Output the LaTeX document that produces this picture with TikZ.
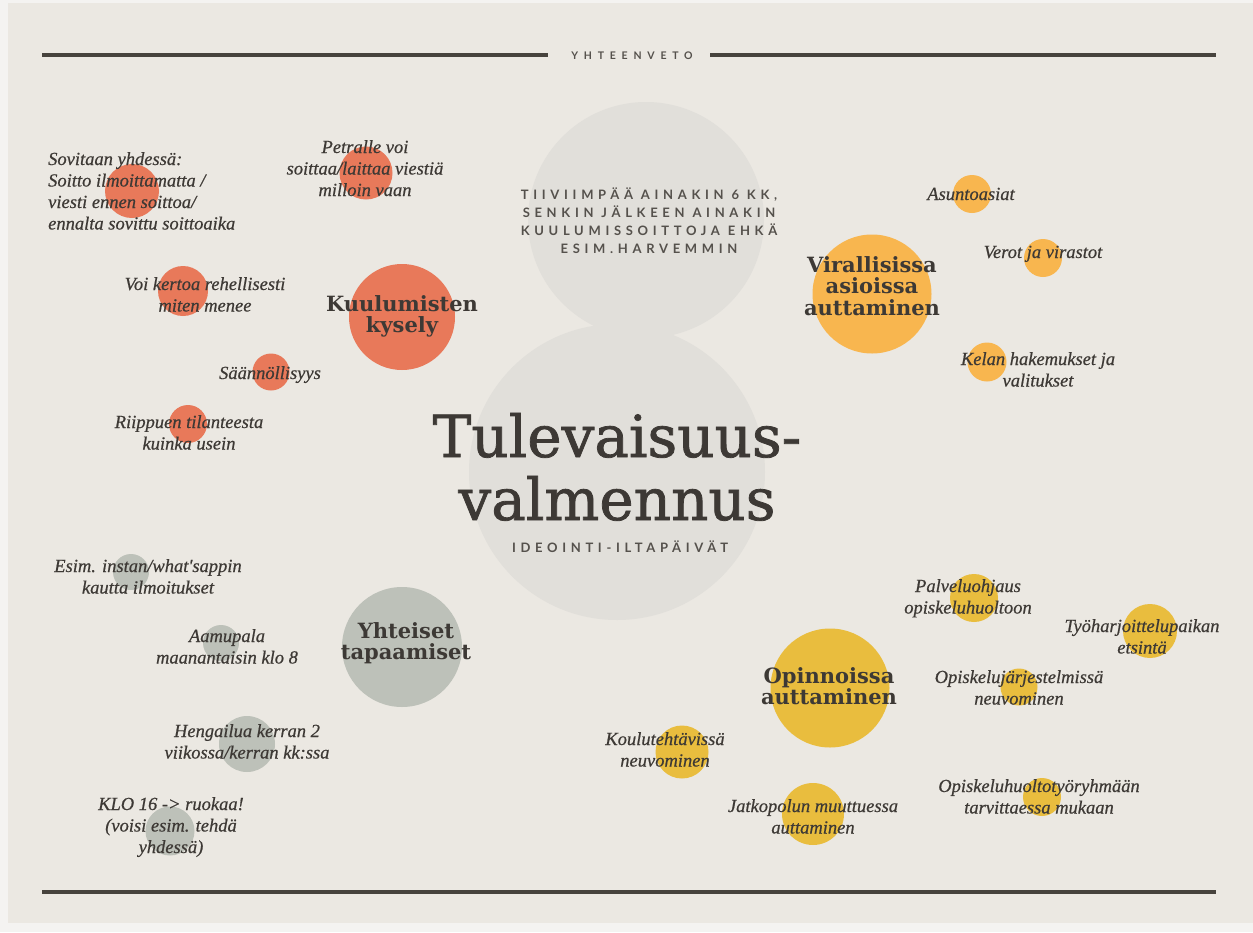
\documentclass[tikz,border=0pt]{standalone}
\usepackage{fontspec}
\setmainfont{Liberation Serif}
\newfontfamily\lblfont[FakeBold=0.6]{Liberation Serif}
\newfontfamily\headfont{DejaVu Serif}
\newfontfamily\titlefont[FakeBold=1.3]{DejaVu Serif}
\newfontfamily\spacedfont[LetterSpace=36]{Lato}
\newfontfamily\rulefont[LetterSpace=55]{Lato}
\definecolor{outer}{HTML}{F4F3F1}
\definecolor{bg}{HTML}{EBE8E2}
\definecolor{bigc}{HTML}{E1DFDA}
\definecolor{ink}{HTML}{3D3935}
\definecolor{rulec}{HTML}{47433D}
\definecolor{orng}{HTML}{E8795A}
\definecolor{grn}{HTML}{BDC1B9}
\definecolor{lor}{HTML}{F8B64F}
\definecolor{yel}{HTML}{E9BD3E}
\definecolor{sp}{HTML}{55514C}
\tikzset{
  dot/.style={circle, inner sep=0pt, draw=none, minimum size=#1},
  lbl/.style={font=\lblfont\itshape\fontsize{18.5}{21.5}\selectfont, text=ink, align=center, anchor=base, inner sep=0pt},
  head/.style={font=\headfont\bfseries\fontsize{21}{21.5}\selectfont, text=ink, align=center, anchor=base, inner sep=0pt},
  spaced/.style={font=\spacedfont\bfseries\fontsize{13}{18}\selectfont, text=sp, align=center, anchor=base, inner sep=0pt},
  rulestyle/.style={line width=4pt, draw=rulec}
}
\begin{document}
\begin{tikzpicture}[x=1pt,y=-1pt]
\useasboundingbox (0,0) rectangle (1253,932);
\fill[outer] (0,0) rectangle (1253,932);
\fill[bg] (8,3) rectangle (1253,923);
% rules
\coordinate (r1a) at (42,55); \coordinate (r1b) at (548,55);
\coordinate (r2a) at (710,55); \coordinate (r2b) at (1216,55);
\coordinate (r3a) at (42,892); \coordinate (r3b) at (1216,892);
\draw[rulestyle] (r1a) -- (r1b);
\draw[rulestyle] (r2a) -- (r2b);
\draw[rulestyle] (r3a) -- (r3b);
\node[font=\rulefont\bfseries\fontsize{10.5}{12}\selectfont, text=sp, anchor=base, inner sep=0pt] (yht) at (632,59.5) {YHTEENVETO};
% big circles
\node[dot=236pt, fill=bigc] (bigtop) at (646,220) {};
\node[dot=296pt, fill=bigc] (bigmid) at (617,472) {};
% orange
\node[dot=106pt, fill=orng] (ck) at (402,317) {};
\node[dot=54pt, fill=orng] (co1) at (132,191) {};
\node[dot=53pt, fill=orng] (co2) at (366,173) {};
\node[dot=50pt, fill=orng] (co3) at (183,291) {};
\node[dot=37pt, fill=orng] (co4) at (271,372) {};
\node[dot=38pt, fill=orng] (co5) at (188,424) {};
% light orange
\node[dot=119pt, fill=lor] (cv) at (872,294) {};
\node[dot=38pt, fill=lor] (cv1) at (972,194) {};
\node[dot=38pt, fill=lor] (cv2) at (1043,258) {};
\node[dot=39pt, fill=lor] (cv3) at (987,362) {};
% gray-green
\node[dot=120pt, fill=grn] (cy) at (402,647) {};
\node[dot=36pt, fill=grn] (cy1) at (131,572) {};
\node[dot=36pt, fill=grn] (cy2) at (221,643) {};
\node[dot=56pt, fill=grn] (cy3) at (247,744) {};
\node[dot=49pt, fill=grn] (cy4) at (170,831) {};
% yellow
\node[dot=119pt, fill=yel] (cp) at (830,688) {};
\node[dot=48pt, fill=yel] (cp1) at (974,598) {};
\node[dot=54pt, fill=yel] (cp2) at (1150,631) {};
\node[dot=37pt, fill=yel] (cp3) at (1019,687) {};
\node[dot=53pt, fill=yel] (cp4) at (682,752) {};
\node[dot=62pt, fill=yel] (cp5) at (813,814) {};
\node[dot=38pt, fill=yel] (cp6) at (1042,797) {};
% central texts (base anchor = last line)
\node[spaced] (tiivi) at (649,253) {TIIVIIMPÄÄ AINAKIN 6 KK,\\SENKIN JÄLKEEN AINAKIN\\KUULUMISSOITTOJA EHKÄ\\ESIM.HARVEMMIN};
\node[font=\titlefont\fontsize{58}{63}\selectfont, text=ink, align=center, anchor=base, inner sep=0pt] (title) at (617,520) {Tulevaisuus-\\valmennus};
\node[spaced] (ideo) at (620,552) {IDEOINTI-ILTAPÄIVÄT};
% headings
\node[head] (hk) at (402,332.5) {Kuulumisten\\kysely};
\node[head] (hv) at (872,315) {Virallisissa\\asioissa\\auttaminen};
\node[head] (hy) at (406,659.5) {Yhteiset\\tapaamiset};
\node[head] (hp) at (829,704.5) {Opinnoissa\\auttaminen};
% labels
\node[lbl, anchor=base west, align=left] (l1) at (48,229.5) {Sovitaan yhdessä:\\Soitto ilmoittamatta /\\viesti ennen soittoa/\\ennalta sovittu soittoaika};
\node[lbl] (l2) at (365,196) {Petralle voi\\soittaa/laittaa viestiä\\milloin vaan};
\node[lbl] (l3) at (205,311.5) {Voi kertoa rehellisesti\\miten menee};
\node[lbl] (l4) at (270,379) {Säännöllisyys};
\node[lbl] (l5) at (189,449.5) {Riippuen tilanteesta\\kuinka usein};
\node[lbl] (l6) at (971,200) {Asuntoasiat};
\node[lbl] (l7) at (1043,258) {Verot ja virastot};
\node[lbl] (l8) at (1038,386.5) {Kelan hakemukset ja\\valitukset};
\node[lbl] (l9) at (148,593.5) {Esim. instan/what'sappin\\kautta ilmoitukset};
\node[lbl] (l10) at (227,663.5) {Aamupala\\maanantaisin klo 8};
\node[lbl] (l11) at (247,758.5) {Hengailua kerran 2\\viikossa/kerran kk:ssa};
\node[lbl] (l12) at (171,853) {KLO 16 -> ruokaa!\\(voisi esim. tehdä\\yhdessä)};
\node[lbl] (l13) at (968,613.5) {Palveluohjaus\\opiskeluhuoltoon};
\node[lbl] (l14) at (1142,653.5) {Työharjoittelupaikan\\etsintä};
\node[lbl] (l15) at (1019,704.5) {Opiskelujärjestelmissä\\neuvominen};
\node[lbl] (l16) at (665,766.5) {Koulutehtävissä\\neuvominen};
\node[lbl] (l17) at (813,833.5) {Jatkopolun muuttuessa\\auttaminen};
\node[lbl] (l18) at (1039,813.5) {Opiskeluhuoltotyöryhmään\\tarvittaessa mukaan};
\end{tikzpicture}
\end{document}
